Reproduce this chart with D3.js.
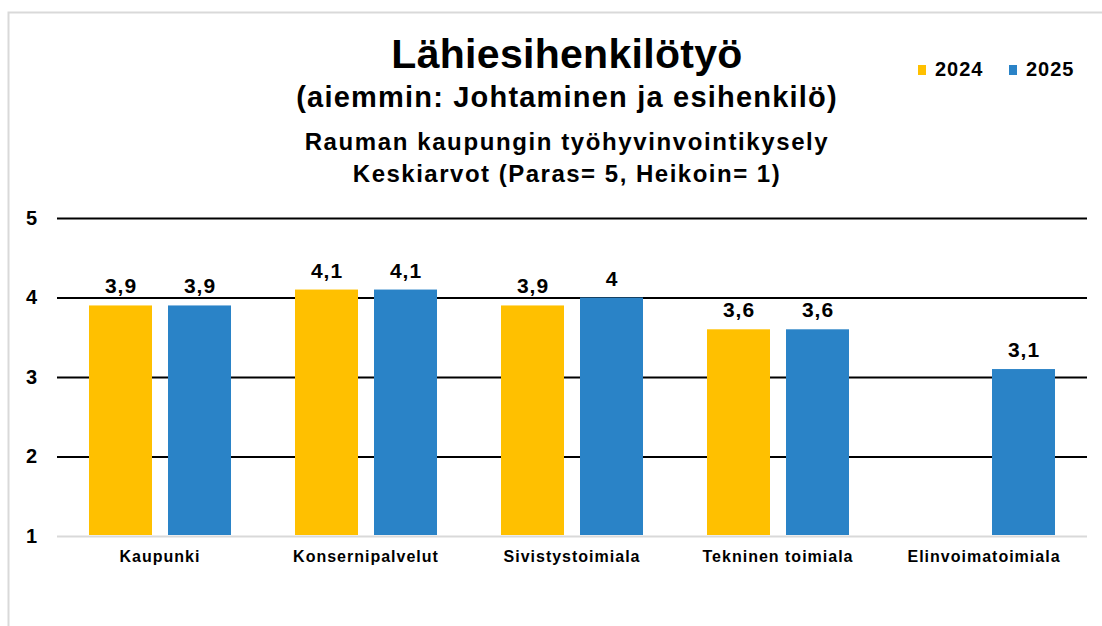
<!DOCTYPE html>
<html>
<head>
<meta charset="utf-8">
<script src="https://cdn.jsdelivr.net/npm/d3@7"></script>
<style>
  body { margin: 0; background: #fff; }
  svg text { font-family: "Liberation Sans", Arial, sans-serif; font-weight: bold; fill: #000; }
</style>
</head>
<body>
<div id="chart"></div>
<script>
// Chart data
var categories = ["Kaupunki", "Konsernipalvelut", "Sivistystoimiala", "Tekninen toimiala", "Elinvoimatoimiala"];
var seriesNames = ["2024", "2025"];
var values2024 = [3.9, 4.1, 3.9, 3.6, null];
var values2025 = [3.9, 4.1, 4.0, 3.6, 3.1];
var yTicks = [1, 2, 3, 4, 5];
var colors = ["#FFC000", "#2A83C7"];

var titleLines = ["Lähiesihenkilötyö", "(aiemmin: Johtaminen ja esihenkilö)",
                  "Rauman kaupungin työhyvinvointikysely", "Keskiarvot (Paras= 5, Heikoin= 1)"];

var W = 1102, H = 626;
var plot = {left: 57, right: 1087, top: 218, bottom: 536};

var svg = d3.select("#chart")
    .append("svg")
        .attr("width", W)
        .attr("height", H);

// outer frame (runs off the page on the right and bottom)
svg.append("rect")
    .attr("x", 8.5).attr("y", 12.5)
    .attr("width", 1110).attr("height", 640)
    .attr("fill", "none")
    .attr("stroke", "#d9d9d9")
    .attr("stroke-width", 2);

// scales
var x = d3.scaleBand().domain(categories).range([plot.left, plot.right]);
var xInner = d3.scaleBand().domain(seriesNames)
    .range([0, x.bandwidth()])
    .paddingInner(0.2025)
    .paddingOuter(0.405);
var y = d3.scaleLinear().domain([1, 5]).range([plot.bottom, plot.top]);

// gridlines
var yAxis = d3.axisLeft(y).tickValues(yTicks)
    .tickSize(-(plot.right - plot.left))
    .tickFormat(d3.format("d"))
    .tickPadding(20);

var gy = svg.append("g")
    .attr("transform", "translate(" + plot.left + ",0)")
    .call(yAxis);
gy.select(".domain").remove();
gy.selectAll(".tick line")
    .attr("stroke", function(d) { return d === 1 ? "#d9d9d9" : "#000"; })
    .attr("stroke-width", 2);
gy.selectAll(".tick text")
    .style("font-size", "20px")
    .attr("fill", "#000");

// bars
var table = categories.map(function(c, i) {
    return {cat: c, vals: [values2024[i], values2025[i]]};
});

var groups = svg.selectAll(".grp")
    .data(table)
    .enter().append("g")
        .attr("class", "grp")
        .attr("transform", function(d) { return "translate(" + x(d.cat) + ",0)"; });

var bars = groups.selectAll("g.bar")
    .data(function(d) {
        return seriesNames.map(function(s, j) { return {s: s, j: j, v: d.vals[j]}; })
            .filter(function(e) { return e.v != null; });
    })
    .enter().append("g").attr("class", "bar");

bars.append("rect")
    .attr("x", function(d) { return xInner(d.s); })
    .attr("y", function(d) { return y(d.v); })
    .attr("width", xInner.bandwidth())
    .attr("height", function(d) { return y(1) - y(d.v) - 1; })
    .attr("fill", function(d) { return colors[d.j]; });

var fmt = function(v) { return String(v).replace(".", ","); };

bars.append("text")
    .attr("x", function(d) { return xInner(d.s) + xInner.bandwidth() / 2 + 0.5; })
    .attr("y", function(d) { return y(d.v) - 12; })
    .attr("text-anchor", "middle")
    .style("font-size", "21px")
    .style("letter-spacing", "1px")
    .text(function(d) { return fmt(d.v); });

// category labels
var xAxis = d3.axisBottom(x).tickSize(0).tickPadding(15);
var gx = svg.append("g")
    .attr("transform", "translate(0," + plot.bottom + ")")
    .call(xAxis);
gx.select(".domain").remove();
gx.selectAll(".tick text")
    .style("font-size", "16px")
    .style("letter-spacing", "1px")
    .attr("fill", "#000");

// titles
var titleSizes = [41, 29, 24, 24];
var titleSpacing = [0.3, 1.2, 1.6, 1.5];
var titleY = [68, 107, 150, 182];
svg.selectAll(".title")
    .data(titleLines)
    .enter().append("text")
        .attr("class", "title")
        .attr("x", 567)
        .attr("y", function(d, i) { return titleY[i]; })
        .attr("text-anchor", "middle")
        .style("font-size", function(d, i) { return titleSizes[i] + "px"; })
        .style("letter-spacing", function(d, i) { return titleSpacing[i] + "px"; })
        .text(function(d) { return d; });

// legend
var legend = svg.selectAll(".legend")
    .data(seriesNames)
    .enter().append("g")
        .attr("class", "legend")
        .attr("transform", function(d, i) { return "translate(" + (918 + i * 91) + ",65)"; });
legend.append("rect")
    .attr("width", 8).attr("height", 10)
    .attr("fill", function(d, i) { return colors[i]; });
legend.append("text")
    .attr("x", 17).attr("y", 11)
    .style("font-size", "20px")
    .style("letter-spacing", "1px")
    .text(function(d) { return d; });
</script>
</body>
</html>
